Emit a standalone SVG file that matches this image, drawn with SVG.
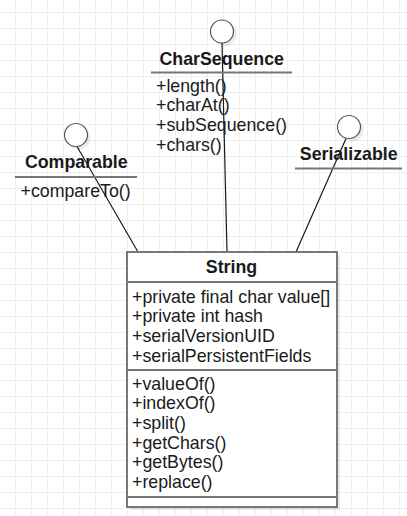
<svg xmlns="http://www.w3.org/2000/svg" width="407" height="516" viewBox="0 0 407 516">
  <defs>
    <pattern id="grid" patternUnits="userSpaceOnUse" x="-1" y="12" width="16" height="16">
      <rect x="0" y="0" width="1" height="16" fill="#efefef"/>
      <rect x="0" y="0" width="16" height="1" fill="#efefef"/>
    </pattern>
  </defs>
  <style>
    .t { font-family: "Liberation Sans", Arial, sans-serif; font-size: 17.8px; fill: #1a1a1a; }
    .b { font-weight: bold; text-anchor: middle; }
    .sep { stroke: #777; stroke-width: 2; fill: none; }
    .lollipop { fill: #fff; stroke: #555; stroke-width: 1.2; }
    .shadow { fill: #000; fill-opacity: 0.08; }
    .edge { stroke: #1a1a1a; stroke-width: 1.2; fill: none; }
  </style>
  <rect x="0" y="0" width="407" height="516" fill="#fff"/>
  <rect x="0" y="0" width="407" height="516" fill="url(#grid)"/>

  <g id="connectors">
    <line class="edge" x1="77" y1="146.5" x2="138" y2="252"/>
    <line class="edge" x1="222" y1="43" x2="227" y2="252"/>
    <line class="edge" x1="346" y1="138.5" x2="296" y2="252"/>
  </g>

  <g id="comparable">
    <circle class="shadow" cx="79" cy="138" r="11.5"/>
    <circle class="lollipop" cx="76" cy="135" r="11.5"/>
    <text class="t b" x="76.3" y="168.3">Comparable</text>
    <line class="sep" x1="15" y1="177" x2="137" y2="177"/>
    <text class="t" x="20.5" y="196.7">+compareTo()</text>
  </g>

  <g id="charsequence">
    <circle class="shadow" cx="225" cy="34.5" r="11.5"/>
    <circle class="lollipop" cx="222" cy="31.5" r="11.5"/>
    <text class="t b" x="221.7" y="65">CharSequence</text>
    <line class="sep" x1="151" y1="72.5" x2="292" y2="72.5"/>
    <text class="t" x="156" y="91.5">+length()</text>
    <text class="t" x="156" y="111.3">+charAt()</text>
    <text class="t" x="156" y="131.1">+subSequence()</text>
    <text class="t" x="156" y="150.9">+chars()</text>
  </g>

  <g id="serializable">
    <circle class="shadow" cx="352" cy="130" r="11.5"/>
    <circle class="lollipop" cx="349" cy="127" r="11.5"/>
    <text class="t b" x="348.7" y="160">Serializable</text>
    <line class="sep" x1="295" y1="168.5" x2="402" y2="168.5"/>
  </g>

  <g id="string">
    <rect class="shadow" x="130" y="255" width="210" height="255"/>
    <rect x="127" y="252" width="210" height="255" fill="#fff" stroke="#6a6a6a" stroke-width="1.8"/>
    <text class="t b" x="231.5" y="273.3">String</text>
    <line class="sep" x1="127" y1="282" x2="337" y2="282"/>
    <text class="t" x="132" y="302.5">+private final char value[]</text>
    <text class="t" x="132" y="322.3">+private int hash</text>
    <text class="t" x="132" y="342.1">+serialVersionUID</text>
    <text class="t" x="132" y="361.9">+serialPersistentFields</text>
    <line class="sep" x1="127" y1="370" x2="337" y2="370"/>
    <text class="t" x="132" y="389.5">+valueOf()</text>
    <text class="t" x="132" y="409.2">+indexOf()</text>
    <text class="t" x="132" y="428.9">+split()</text>
    <text class="t" x="132" y="448.6">+getChars()</text>
    <text class="t" x="132" y="468.3">+getBytes()</text>
    <text class="t" x="132" y="488">+replace()</text>
    <line class="sep" x1="127" y1="497" x2="337" y2="497"/>
  </g>
</svg>
